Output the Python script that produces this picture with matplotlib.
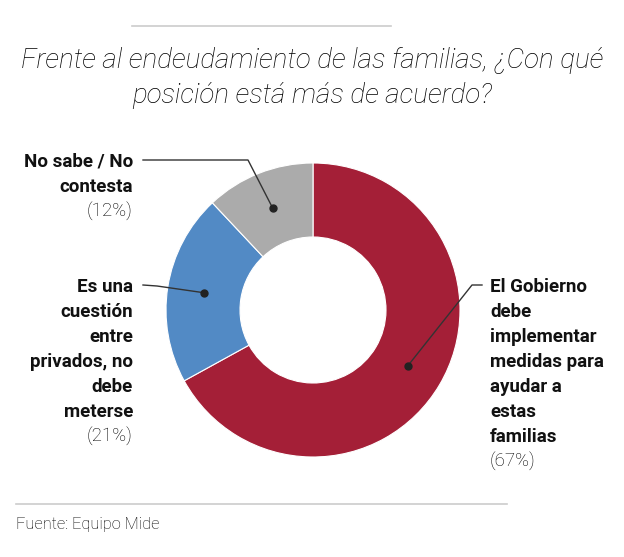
import numpy as np
import matplotlib.pyplot as plt
from matplotlib.lines import Line2D

labels = [['El Gobierno', 'debe', 'implementar', 'medidas para', 'ayudar a', 'estas', 'familias'],
          ['Es una', 'cuestión', 'entre', 'privados, no', 'debe', 'meterse'],
          ['No sabe / No', 'contesta']]
values = [67, 21, 12]
colors = ['#A41F37', '#528AC5', '#ABABAB']

W, H = 624, 557
fig = plt.figure(figsize=(W / 100, H / 100), dpi=100)
ax = fig.add_axes([0, 0, 1, 1])
ax.axis('off')


def py(y):
    # pixel row from the top -> data y
    return H - y


cx, cy, R = 313, py(310), 147
wedges, _ = ax.pie(values, colors=colors, startangle=90, counterclock=False,
                   radius=R, center=(cx, cy),
                   wedgeprops=dict(width=74, edgecolor='white', linewidth=0.8))
ax.set_xlim(0, W)
ax.set_ylim(0, H)
ax.set_aspect('equal')

# rules
ax.add_line(Line2D([132, 391], [py(26), py(26)], color='#cccccc', lw=1.2))
ax.add_line(Line2D([16, 507], [py(504), py(504)], color='#cccccc', lw=1.2))

title = ['Frente al endeudamiento de las familias, ¿Con qué', 'posición está más de acuerdo?']
for i, line in enumerate(title):
    ax.text(312, py(68 + i * 35), line, ha='center', va='baseline', fontsize=20,
            style='italic', fontweight='light', family='Roboto', color='#000000')
ax.text(16, py(529), 'Fuente: Equipo Mide', ha='left', va='baseline', fontsize=11.8,
        family='Roboto', fontweight='light', color='#000000')

# label anchors (pixel coords: x, first baseline) and elbow points
text_pos = [(490, 292, 'left'), (133, 292, 'right'), (133, 167, 'right')]
elbows = [[(482, 285), (472, 285)], [(143, 285), (157, 286)], [(143, 160), (248, 160)]]
step = 25

rmid = R - 37
for w, lab, v, (tx, ty, ha), elb in zip(wedges, labels, values, text_pos, elbows):
    ang = np.deg2rad((w.theta1 + w.theta2) / 2)
    dx, dy = cx + rmid * np.cos(ang), cy + rmid * np.sin(ang)
    xs = [p[0] for p in elb] + [dx]
    ys = [py(p[1]) for p in elb] + [dy]
    ax.plot(xs, ys, color='#333333', lw=1)
    ax.plot(dx, dy, 'o', color='#222222', ms=5)
    for i, line in enumerate(lab):
        ax.text(tx, py(ty + i * step), line, ha=ha, va='baseline', fontsize=13.5,
                fontweight='bold', family='Roboto', color='#111111')
    ax.text(tx, py(ty + len(lab) * step), f'({v}%)', ha=ha, va='baseline', fontsize=13.5,
            family='Roboto', fontweight='light', color='#000000')

fig.savefig('out.png', dpi=100)
